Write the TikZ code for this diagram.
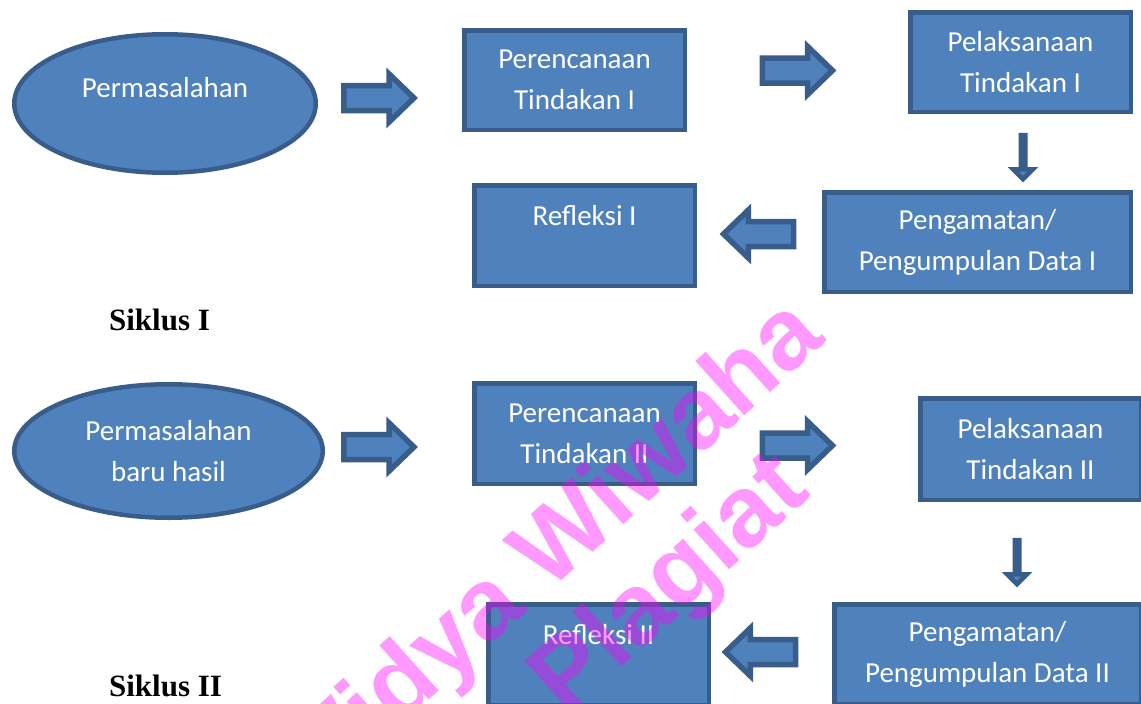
\documentclass[tikz,border=0pt]{standalone}
\usepackage{fontspec}
\setmainfont{Carlito}
\newfontfamily\siklusfont{Liberation Serif}
\newfontfamily\stampfont{Liberation Sans}
\usepackage{xcolor}
\usepackage{tikz}
\usetikzlibrary{shapes.geometric}
\usetikzlibrary{shapes.arrows}
\definecolor{boxfill}{HTML}{4F81BD}
\definecolor{boxline}{HTML}{385D8A}
\definecolor{stampcolor}{RGB}{255,0,255}
\tikzset{
	box/.style={draw=boxline,fill=boxfill,line width=4.5pt,inner sep=0pt,text=white,align=center,font=\fontsize{29}{41}\selectfont},
	oval/.style={box,ellipse},
	rarrow/.style={single arrow,draw=boxline,fill=boxfill,line width=5.5pt,inner xsep=0pt,inner ysep=9.75pt,minimum height=70pt,single arrow head extend=11.5pt,single arrow tip angle=88},
	larrow/.style={rarrow,shape border rotate=180},
	darrow/.style={rarrow,shape border rotate=270,line width=4.5pt,inner ysep=5.5pt,minimum height=44pt,single arrow head extend=7.5pt,single arrow tip angle=90},
	siklus/.style={font=\siklusfont\bfseries\fontsize{31}{37}\selectfont},
	stamp/.style={inner sep=0pt,text=stampcolor,text opacity=0.4,rotate=42,font=\stampfont\bfseries\fontsize{101}{101}\selectfont}
}
\begin{document}
\begin{tikzpicture}[x=1pt,y=-1pt]
	\path[use as bounding box,fill=white] (0,0) rectangle (1141,704);
	% Siklus I
	\node[oval,minimum width=301.5pt,minimum height=138.5pt] (e1) at (165,103.5) {Permasalahan\\[-8pt] \mbox{}};
	\node[box,minimum width=220.5pt,minimum height=99.5pt] (r1) at (574.5,80) {Perencanaan\\Tindakan I};
	\node[box,minimum width=220.5pt,minimum height=99.5pt] (p1) at (1020.5,62) {Pelaksanaan\\Tindakan I};
	\node[box,minimum width=306.5pt,minimum height=99.5pt] (g1) at (977.5,242) {Pengamatan/\\Pengumpulan Data I};
	\node[box,minimum width=220.5pt,minimum height=100.5pt] (f1) at (584.5,235.5) {Refleksi I\\ \mbox{}};
	\node[rarrow] (a1) at (372.5,98) {};
	\node[rarrow] (a2) at (791,70.5) {};
	\node[darrow] (a3) at (1023,156) {};
	\node[larrow] (a4) at (765,234) {};
	\node[siklus] (s1) at (159.5,320) {Siklus I};
	% Siklus II
	\node[oval,minimum width=308.5pt,minimum height=133.5pt] (e2) at (168.5,451) {Permasalahan\\baru hasil};
	\node[box,minimum width=220.5pt,minimum height=100.5pt] (r2) at (584.5,433.5) {Perencanaan\\Tindakan II};
	\node[box,minimum width=220.5pt,minimum height=101.5pt] (p2) at (1030.5,449) {Pelaksanaan\\Tindakan II};
	\node[box,minimum width=306.5pt,minimum height=99.5pt] (g2) at (987.5,654) {Pengamatan/\\Pengumpulan Data II};
	\node[box,minimum width=220.5pt,minimum height=100.5pt] (f2) at (598.5,654.5) {Refleksi II\\ \mbox{}};
	\node[rarrow] (a5) at (372.5,447) {};
	\node[rarrow] (a6) at (791,445.5) {};
	\node[darrow] (a7) at (1017,561) {};
	\node[larrow] (a8) at (767,652) {};
	\node[siklus] (s2) at (165.5,686) {Siklus II};
	% watermark
	\node[stamp] (w1) at (550,556) {Widya Wiwaha};
	\node[stamp] (w2) at (672,587) {Plagiat};
\end{tikzpicture}
\end{document}
